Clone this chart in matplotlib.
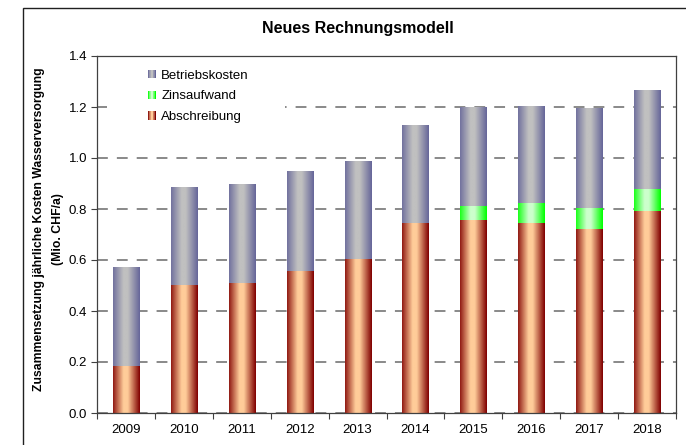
import numpy as np
import matplotlib
matplotlib.use("Agg")
import matplotlib.pyplot as plt
from matplotlib.patches import Rectangle
from matplotlib.legend_handler import HandlerBase
from matplotlib.colors import to_rgb

plt.rcParams['font.family'] = ['Liberation Sans', 'DejaVu Sans']

# data (Mio. CHF/a)
years = ['2009', '2010', '2011', '2012', '2013', '2014', '2015', '2016', '2017', '2018']
abschreibung = [0.185, 0.500, 0.510, 0.558, 0.605, 0.744, 0.758, 0.746, 0.722, 0.793]
zinsaufwand = [0.0, 0.0, 0.0, 0.0, 0.0, 0.0, 0.055, 0.079, 0.083, 0.086]
betriebskosten = [0.385, 0.384, 0.385, 0.389, 0.384, 0.383, 0.385, 0.380, 0.389, 0.385]

series_names = ['Abschreibung', 'Zinsaufwand', 'Betriebskosten']
# (edge colour, centre colour) for the cylinder-like gradient
series_colors = [('#800000', '#FFCC99'), ('#00FF00', '#CCFFCC'), ('#666699', '#C0C0C0')]


def gradient_row(edge, centre, n=64):
    e = np.array(to_rgb(edge))
    c = np.array(to_rgb(centre))
    t = np.linspace(0, 1, n)
    d = np.abs(t - 0.47) / 0.53
    d = np.clip((d - 0.15) / 0.85, 0, 1)
    cols = c[None, :] + (e - c)[None, :] * d[:, None]
    return cols


class GradientHandler(HandlerBase):
    def __init__(self, edge, centre):
        super().__init__()
        self.edge = edge
        self.centre = centre

    def create_artists(self, legend, orig_handle, xdescent, ydescent, width, height, fontsize, trans):
        cols = gradient_row(self.edge, self.centre, 12)
        artists = []
        w = width / len(cols)
        for i in range(len(cols)):
            r = Rectangle((-xdescent + i * w, -ydescent), w * 1.05, height,
                          facecolor=cols[i], edgecolor='none', transform=trans)
            artists.append(r)
        return artists


fig = plt.figure(figsize=(6.86, 4.45), dpi=100)
ax = fig.add_axes([97 / 686, 32 / 445, 579 / 686, 357 / 445])

# outer chart frame
fig.patches.append(Rectangle((23 / 686, -0.2), 1.2, 1.2 - 7.5 / 445,
                             transform=fig.transFigure, fill=False,
                             edgecolor='#202020', linewidth=1.0))

x = np.arange(len(years))
bar_w = 0.45
bottom = np.zeros(len(years))
handles = []
for vals, name, (edge, centre) in zip([abschreibung, zinsaufwand, betriebskosten], series_names, series_colors):
    bars = ax.bar(x, vals, bar_w, bottom=bottom, color='none', edgecolor='none', linewidth=0, zorder=2, label=name)
    grad = gradient_row(edge, centre)[None, :, :]
    for b in bars:
        if b.get_height() <= 0:
            continue
        ax.imshow(grad, extent=[b.get_x(), b.get_x() + b.get_width(), b.get_y(), b.get_y() + b.get_height()],
                  aspect='auto', interpolation='bilinear', zorder=2)
    bottom = bottom + np.array(vals)
    handles.append(bars)

ax.set_xlim(-0.5, len(years) - 0.5)
ax.set_ylim(0, 1.4)

ax.set_yticks(np.arange(0, 1.41, 0.2))
ax.set_yticklabels(['%.1f' % v for v in np.arange(0, 1.41, 0.2)], fontsize=9.5)
ax.set_xticks(x)
ax.set_xticklabels(years, fontsize=9.5)
ax.set_xticks(np.arange(-0.5, len(years), 1.0), minor=True)
ax.tick_params(axis='x', which='major', length=0, pad=8)
ax.tick_params(axis='x', which='minor', length=4, width=0.8, color='#404040', direction='out')
ax.tick_params(axis='y', length=4, width=0.8, color='#404040', direction='out', pad=3)

ax.yaxis.grid(True, linestyle=(0, (6, 5)), color='#808080', linewidth=1.3)
ax.set_axisbelow(True)
for s in ax.spines.values():
    s.set_color('#404040')
    s.set_linewidth(0.9)

ax.set_ylabel('Zusammensetzung jährliche Kosten Wasserversorgung\n(Mio. CHF/a)',
              fontsize=8.8, fontweight='bold', linespacing=1.75)
ax.yaxis.set_label_coords(-0.057, 0.514)

fig.text(358 / 686, (445 - 28) / 445, 'Neues Rechnungsmodell', ha='center', va='center',
         fontsize=11.5, fontweight='bold')

# white legend area hiding the gridline
ax.add_patch(Rectangle((0.0173, 0.807), 0.3074, 0.182, transform=ax.transAxes,
                       facecolor='white', edgecolor='none', zorder=1))

# legend in reverse order like the original
order = [2, 1, 0]
leg_handles = [handles[i] for i in order]
leg_labels = [series_names[i] for i in order]
handler_map = {handles[i]: GradientHandler(*series_colors[i]) for i in range(3)}
leg = ax.legend(leg_handles, leg_labels, loc='upper left', bbox_to_anchor=(0.088, 0.961),
                fontsize=9.5, frameon=False, handler_map=handler_map,
                handlelength=0.6, handleheight=0.6, handletextpad=0.4,
                labelspacing=0.65, borderpad=0.0, borderaxespad=0.0)
leg.set_zorder(5)

fig.savefig('out.png', dpi=100)
